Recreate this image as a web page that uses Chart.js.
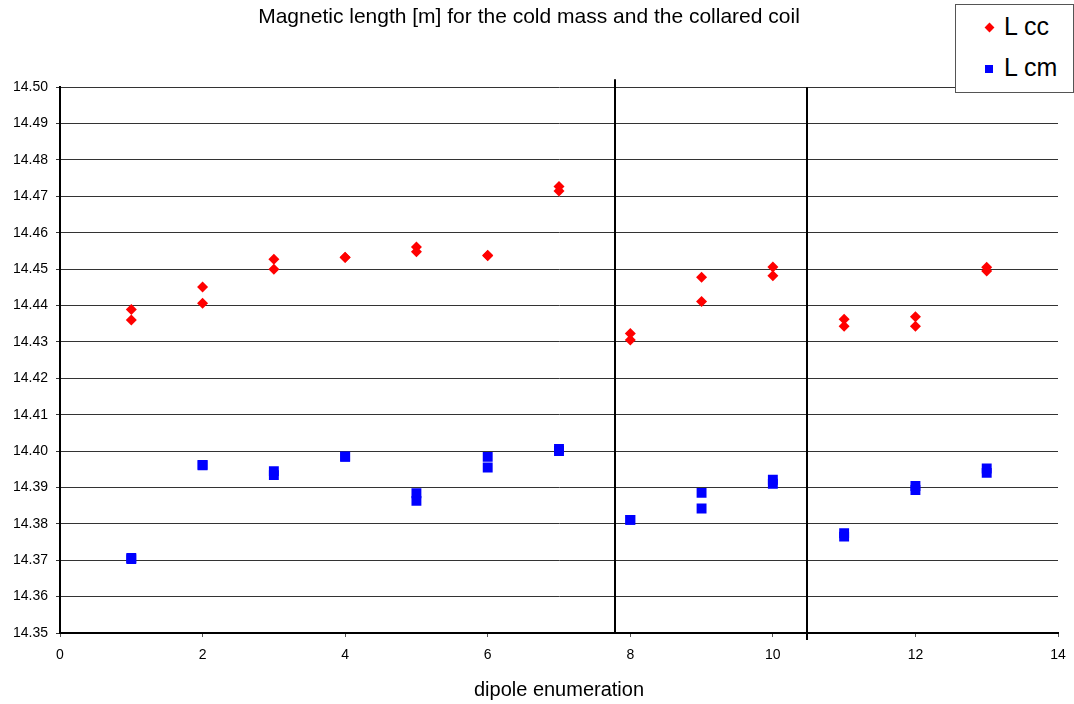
<!DOCTYPE html>
<html>
<head>
<meta charset="utf-8">
<script src="https://cdn.jsdelivr.net/npm/chart.js@4/dist/chart.umd.min.js"></script>
<style>
  html, body { margin: 0; padding: 0; background: #fff; }
  #wrap { position: relative; width: 1074px; height: 704px; }
  #legend {
    position: absolute; left: 955px; top: 4px; width: 119px; height: 89px;
    background: #fff; border: 1px solid #555; box-sizing: border-box;
    font-family: "Liberation Sans", Arial, sans-serif; font-size: 25px; color: #000;
  }
  #legend .row { position: absolute; left: 0; height: 28px; line-height: 28px; }
  #legend .mk { position: absolute; left: 29px; top: 10px; width: 8px; height: 8px; }
  #legend .txt { position: absolute; left: 48px; white-space: nowrap; }
</style>
</head>
<body>
<div id="wrap">
  <canvas id="c" width="1074" height="704"></canvas>
  <div id="legend">
    <div class="row" style="top:7px"><div class="mk" style="background:#f00;transform:rotate(45deg);width:7px;height:7px;top:12px;left:30px"></div><span class="txt">L cc</span></div>
    <div class="row" style="top:48px"><div class="mk" style="background:#00f;top:12px"></div><span class="txt">L cm</span></div>
  </div>
</div>
<script>
// dipole number for each measurement (two measurements per dipole)
var dipoles = [1, 1, 2, 2, 3, 3, 4, 4, 5, 5, 6, 6, 7, 7, 8, 8, 9, 9, 10, 10, 11, 11, 12, 12, 13, 13];
// magnetic length of the collared coil [m]
var lcc = [14.4389, 14.4360, 14.4451, 14.4406, 14.4527, 14.4500, 14.4533, 14.4532,
           14.4561, 14.4548, 14.4538, 14.4537, 14.4727, 14.4715, 14.4323, 14.4305,
           14.4478, 14.4411, 14.4506, 14.4482, 14.4362, 14.4343, 14.4369, 14.4343,
           14.4505, 14.4495];
// magnetic length of the cold mass [m]
var lcm = [14.3706, 14.3703, 14.3962, 14.3961, 14.3945, 14.3934, 14.3985, 14.3984,
           14.3884, 14.3863, 14.3984, 14.3955, 14.4006, 14.4000, 14.3811, 14.3811,
           14.3885, 14.3842, 14.3921, 14.3910, 14.3774, 14.3765, 14.3904, 14.3893,
           14.3952, 14.3940];
// vertical separators between production series
var separators = [7.78, 10.48];

function pts(ys) {
  return ys.map(function (y, i) { return { x: dipoles[i], y: y }; });
}

var separatorPlugin = {
  id: 'separators',
  afterDatasetsDraw: function (chart) {
    var ctx = chart.ctx, xs = chart.scales.x, area = chart.chartArea;
    ctx.save();
    ctx.strokeStyle = '#000';
    ctx.lineWidth = 2;
    separators.forEach(function (v, i) {
      var px = Math.round(xs.getPixelForValue(v));
      ctx.beginPath();
      ctx.moveTo(px, i == 0 ? area.top - 8 : area.top);
      ctx.lineTo(px, i == 0 ? area.bottom : area.bottom + 7);
      ctx.stroke();
    });
    ctx.restore();
  }
};

new Chart(document.getElementById('c'), {
  type: 'scatter',
  data: {
    datasets: [{
      label: 'L cc',
      data: pts(lcc),
      pointStyle: 'rectRot',
      pointRadius: 5.5,
      pointHoverRadius: 5.5,
      backgroundColor: '#ff0000',
      borderColor: '#ff0000',
      borderWidth: 0
    }, {
      label: 'L cm',
      data: pts(lcm),
      pointStyle: 'rect',
      pointRadius: 7,
      pointHoverRadius: 7,
      backgroundColor: '#0000ff',
      borderColor: '#0000ff',
      borderWidth: 0
    }]
  },
  options: {
    responsive: false,
    animation: false,
    events: [],
    layout: { padding: { left: 0, right: 16, top: 0, bottom: 0 } },
    plugins: {
      legend: { display: false },
      tooltip: { enabled: false },
      title: {
        display: true,
        text: 'Magnetic length [m] for the cold mass and the collared coil',
        color: '#000',
        font: { family: 'Liberation Sans', size: 21, weight: 'normal' },
        padding: { top: 5, bottom: 57 }
      }
    },
    scales: {
      x: {
        type: 'linear',
        min: 0, max: 14,
        ticks: { stepSize: 2, color: '#000', font: { family: 'Liberation Sans', size: 14 }, padding: 10 },
        grid: { display: true, drawOnChartArea: false, drawTicks: true, tickLength: 4, color: '#555' },
        border: { color: '#000', width: 2 },
        title: {
          display: true, text: 'dipole enumeration', color: '#000',
          font: { family: 'Liberation Sans', size: 20 }, padding: { top: 8, bottom: 2 }
        },
        afterFit: function (s) { s.height = 71; s.paddingRight = 0; s.paddingLeft = 0; }
      },
      y: {
        min: 14.35, max: 14.50,
        ticks: {
          stepSize: 0.01, color: '#000', font: { family: 'Liberation Sans', size: 14 }, padding: 8,
          callback: function (v) { return v.toFixed(2); }
        },
        grid: { color: '#333', lineWidth: 1, tickLength: 4 },
        border: { color: '#000', width: 2 },
        afterFit: function (s) { s.width = 60; }
      }
    }
  },
  plugins: [separatorPlugin]
});
</script>
</body>
</html>
